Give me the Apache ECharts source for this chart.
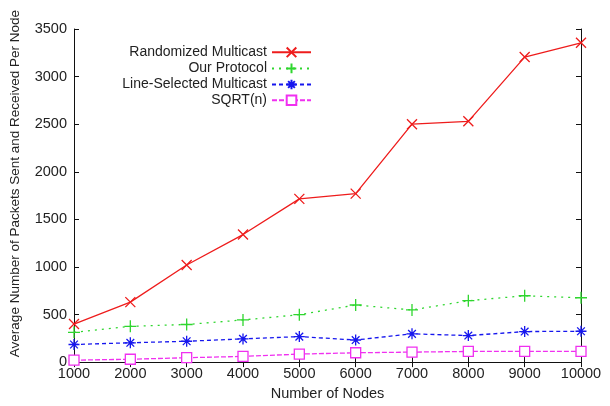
<!DOCTYPE html>
<html>
<head>
<meta charset="utf-8">
<script src="https://cdn.jsdelivr.net/npm/echarts@6/dist/echarts.min.js"></script>
<style>
  html, body { margin: 0; padding: 0; background: #fff; }
  #main { width: 610px; height: 406px; }
</style>
</head>
<body>
<div id="main"></div>
<script>
// values
let nodes = [1000, 2000, 3000, 4000, 5000, 6000, 7000, 8000, 9000, 10000]
let randomized = [400, 630, 1020, 1340, 1715, 1770, 2500, 2530, 3205, 3355]
let ourProtocol = [313, 376, 395, 443, 498, 600, 548, 645, 697, 676]
let lineSelected = [185, 203, 219, 244, 268, 232, 297, 279, 321, 324]
let sqrtN = [20, 30, 46, 60, 84, 98, 105, 112, 112, 112]

let font = 'Liberation Sans, Arial, Helvetica, sans-serif'

function pairs(ys) {
    return nodes.map((x, i) => [x, ys[i]])
}

// gnuplot-like point shapes, drawn as strokes
let crossPath = 'path://M0,0L10,10M10,0L0,10'
let plusPath = 'path://M5,0L5,10M0,5L10,5'
let starPath = 'path://M5,0L5,10M0,5L10,5M1.5,1.5L8.5,8.5M8.5,1.5L1.5,8.5'

function mkSeries(name, ys, color, symbol, size, lineType) {
    return {
        name: name,
        type: 'line',
        data: pairs(ys),
        symbol: symbol,
        symbolSize: size,
        showAllSymbol: true,
        lineStyle: { color: color, width: 1.3, type: lineType },
        itemStyle: { color: 'none', borderColor: color, borderWidth: 1.3 },
        emphasis: { disabled: true },
        z: 2
    }
}

let chart = echarts.init(document.getElementById('main'))

let axisText = { color: '#222', fontFamily: font, fontSize: 14.5 }
let plain = v => String(v)

let option = {
    animation: false,
    backgroundColor: '#fff',
    grid: { left: 72, right: 29, top: 29, bottom: 37, show: false },
    legend: {
        orient: 'vertical',
        align: 'right',
        right: 298,
        top: 45,
        padding: 0,
        itemWidth: 39,
        itemHeight: 12,
        itemGap: 1.5,
        textStyle: { color: '#222', fontFamily: font, fontSize: 14, lineHeight: 14 },
        data: ['Randomized Multicast', 'Our Protocol', 'Line-Selected Multicast', 'SQRT(n)']
    },
    xAxis: [{
        type: 'value',
        min: 1000, max: 10000, interval: 1000,
        name: 'Number of Nodes',
        nameLocation: 'middle',
        nameGap: 20,
        nameTextStyle: axisText,
        axisLine: { show: true, lineStyle: { color: '#111', width: 1 } },
        axisTick: { show: true, inside: true, length: 5, lineStyle: { color: '#111' } },
        axisLabel: Object.assign({ margin: 4, formatter: plain }, axisText),
        splitLine: { show: false }
    }, {
        type: 'value',
        position: 'top',
        min: 1000, max: 10000, interval: 1000,
        axisLine: { show: true, lineStyle: { color: '#111', width: 1 } },
        axisTick: { show: true, inside: true, length: 5, lineStyle: { color: '#111' } },
        axisLabel: { show: false },
        splitLine: { show: false }
    }],
    yAxis: [{
        type: 'value',
        min: 0, max: 3500, interval: 500,
        name: 'Average Number of Packets Sent and Received Per Node',
        nameLocation: 'middle',
        nameGap: 52,
        nameTextStyle: { color: '#222', fontFamily: font, fontSize: 13.5, padding: [0, 0, 0, 24] },
        axisLine: { show: true, lineStyle: { color: '#111', width: 1 } },
        axisTick: { show: true, inside: true, length: 5, lineStyle: { color: '#111' } },
        axisLabel: Object.assign({ margin: 7, formatter: plain }, axisText),
        splitLine: { show: false }
    }, {
        type: 'value',
        position: 'right',
        min: 0, max: 3500, interval: 500,
        axisLine: { show: true, lineStyle: { color: '#111', width: 1 } },
        axisTick: { show: true, inside: true, length: 5, lineStyle: { color: '#111' } },
        axisLabel: { show: false },
        splitLine: { show: false }
    }],
    series: [
        mkSeries('Randomized Multicast', randomized, '#ee1c1c', crossPath, 10, 'solid'),
        mkSeries('Our Protocol', ourProtocol, '#2fd62f', plusPath, 12, [2, 5]),
        mkSeries('Line-Selected Multicast', lineSelected, '#1616ee', starPath, 11, [4, 3]),
        Object.assign(mkSeries('SQRT(n)', sqrtN, '#f030f0', 'rect', 10, [5, 2]), {
            itemStyle: { color: '#fff', borderColor: '#f030f0', borderWidth: 1.3 }
        })
    ]
}

chart.setOption(option)
</script>
</body>
</html>
